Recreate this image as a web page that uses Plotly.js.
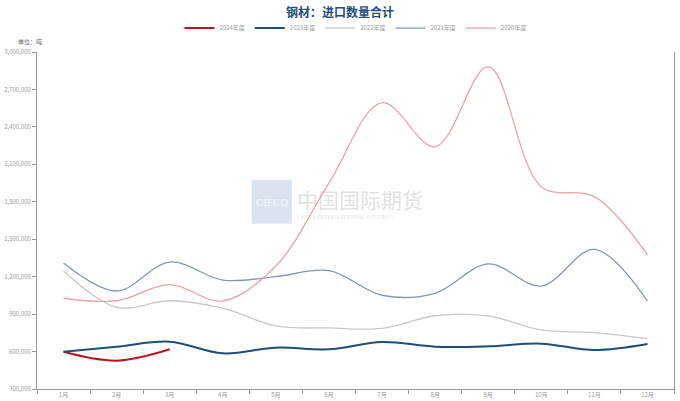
<!DOCTYPE html>
<html>
<head>
<meta charset="utf-8">
<script src="https://cdn.plot.ly/plotly-3.0.1.min.js"></script>
<style>html,body{margin:0;padding:0;background:#fff;}#chart{width:680px;height:401px;}</style>
</head>
<body>
<div id="chart"></div>
<script>
const months = ["1月","2月","3月","4月","5月","6月","7月","8月","9月","10月","11月","12月"];
const y2024 = [598000, 527000, 618000];
const y2023 = [598000, 639000, 679000, 586000, 631000, 618000, 677000, 639000, 642000, 663000, 612000, 660000];
const y2022 = [1248000, 955000, 1007000, 947000, 805000, 789000, 786000, 887000, 885000, 773000, 751000, 703000];
const y2021 = [1309000, 1085000, 1317000, 1173000, 1200000, 1248000, 1051000, 1067000, 1302000, 1125000, 1419000, 1005000];
const y2020 = [1027000, 1007000, 1136000, 1005000, 1285000, 1950000, 2594000, 2241000, 2882000, 1921000, 1841000, 1374000];
const seriesNames = ["2024年度","2023年度","2022年度","2021年度","2020年度"];

const colors = ["#b8161f", "#1f4e79", "#c8c8c8", "#8497b0", "#eba2a8"];
const widths = [2, 2, 1.3, 1.3, 1.3];
const data = [y2024, y2023, y2022, y2021, y2020];

const traces = data.map((vals, i) => ({
  x: months.slice(0, vals.length),
  y: vals,
  name: seriesNames[i],
  type: "scatter",
  mode: "lines",
  line: {color: colors[i], width: widths[i], shape: "spline", smoothing: 1},
  hoverinfo: "x+y+name"
}));

const font = "Noto Sans CJK SC, Noto Sans, sans-serif";
const layout = {
  width: 680, height: 401,
  margin: {l: 37, r: 6, t: 52, b: 12, pad: 0},
  paper_bgcolor: "#fff", plot_bgcolor: "#fff",
  font: {family: font, color: "#888", size: 7},
  title: {text: "<b>钢材：进口数量合计</b>", x: 0.5, xanchor: "center", y: 0.978, yanchor: "top",
          font: {family: font, size: 12, color: "#1f4e79"}},
  showlegend: true,
  legend: {orientation: "h", x: 0.5, xanchor: "center", y: 1.071, yanchor: "middle",
           font: {size: 6, color: "#999", family: font}, itemwidth: 30, traceorder: "normal",
           bgcolor: "rgba(0,0,0,0)"},
  xaxis: {
    type: "category", categoryorder: "array", categoryarray: months,
    range: [-0.5, 11.5],
    showline: true, linecolor: "#999", linewidth: 1,
    ticks: "outside", tickson: "boundaries", ticklen: 4, tickcolor: "#999",
    showgrid: false, zeroline: false, automargin: false,
    tickfont: {size: 6, color: "#999"}
  },
  yaxis: {
    range: [300000, 3000000], dtick: 300000, tick0: 300000,
    tickformat: ",d",
    showline: true, linecolor: "#999", linewidth: 1, mirror: true,
    ticks: "outside", ticklen: 4, tickcolor: "#999",
    showgrid: false, zeroline: false, automargin: false,
    tickfont: {size: 6, color: "#999"}
  },
  shapes: [
    {type: "rect", xref: "paper", yref: "paper", x0: 0.337, x1: 0.4, y0: 0.49, y1: 0.62,
     fillcolor: "#c9d9ea", line: {width: 0}, opacity: 0.7, layer: "below"}
  ],
  annotations: [
    {text: "单位：吨", xref: "paper", yref: "paper", x: -0.011, y: 1.03, xanchor: "center", yanchor: "middle",
     showarrow: false, font: {size: 6, color: "#666"}},
    {text: "CIFCO", xref: "paper", yref: "paper", x: 0.3685, y: 0.555, xanchor: "center", yanchor: "middle",
     showarrow: false, font: {family: "Liberation Serif, serif", size: 11, color: "rgba(255,255,255,0.9)"}},
    {text: "中国国际期货", xref: "paper", yref: "paper", x: 0.405, y: 0.565, xanchor: "left", yanchor: "middle",
     showarrow: false, font: {family: font, size: 21, color: "rgba(150,150,150,0.3)"}},
    {text: "CHINA INTERNATIONAL FUTURES", xref: "paper", yref: "paper", x: 0.405, y: 0.51, xanchor: "left", yanchor: "middle",
     showarrow: false, font: {family: "Liberation Serif, serif", size: 6, color: "rgba(150,150,150,0.3)"}}
  ]
};

Plotly.newPlot("chart", traces, layout, {displayModeBar: false, staticPlot: true});
</script>
</body>
</html>
